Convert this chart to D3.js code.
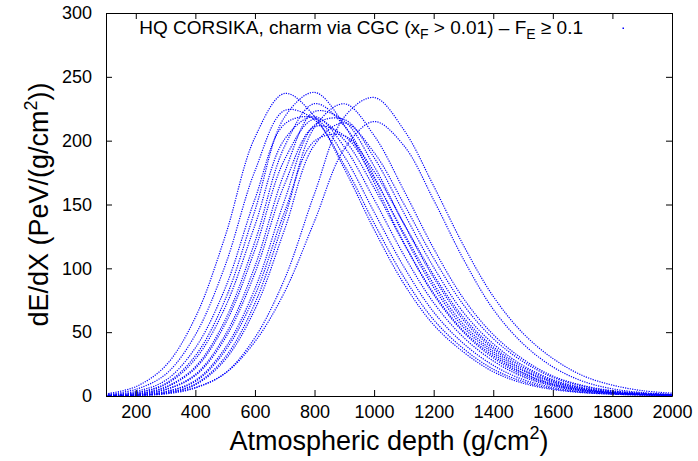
<!DOCTYPE html>
<html>
<head>
<meta charset="utf-8">
<script src="https://cdn.jsdelivr.net/npm/d3@7"></script>
<style>
  body { margin: 0; background: #fff; }
  svg { display: block; font-family: "Liberation Sans", Arial, Helvetica, sans-serif; }
</style>
</head>
<body>
<svg id="chart" width="698" height="461"></svg>
<script>
// atmospheric depth grid (g/cm^2)
const depth = [100, 200, 300, 400, 500, 600, 700, 800, 900, 1000,
               1100, 1200, 1300, 1400, 1500, 1600, 1700, 1800, 1900, 2000];

// dE/dX (PeV/(g/cm^2)) for each simulated shower
const shower1  = [1.7, 7.3, 23.7, 61.6, 125.1, 202.6, 237, 219.0, 178.0, 130.4, 87.9, 55.7, 34.4, 19.0, 10.0, 5.1, 2.6, 1.4, 0.7, 0.4];
const shower2  = [0.5, 2.6, 9.8, 31.5, 75.5, 145.3, 218.7, 237.8, 212.0, 167.3, 120.0, 79.3, 50.0, 29.9, 16.3, 8.6, 4.3, 2.2, 1.1, 0.6];
const shower3  = [1.1, 5.2, 17.0, 47.9, 102.2, 176.3, 223.7, 216.3, 180.8, 135.4, 93.1, 59.7, 37.1, 21.0, 11.3, 5.8, 2.9, 1.5, 0.8, 0.4];
const shower4  = [0.7, 3.6, 12.2, 37.7, 84.4, 154.3, 213.1, 217.6, 187.6, 144.1, 101.2, 65.7, 41.1, 24.0, 12.9, 6.7, 3.4, 1.8, 0.9, 0.5];
const shower5  = [0.3, 1.6, 7.1, 22.9, 59.5, 120.9, 195.8, 229, 211.6, 172.0, 126.0, 85.0, 53.8, 33.2, 18.3, 9.6, 4.9, 2.5, 1.3, 0.7];
const shower6  = [0.1, 0.5, 2.5, 9.4, 30.4, 72.7, 139.8, 210.5, 228.9, 204.0, 161.0, 115.5, 76.4, 48.1, 28.8, 15.6, 8.3, 4.1, 2.2, 1.1];
const shower7  = [0.2, 1.1, 5.2, 16.9, 47.7, 101.7, 175.5, 222.8, 215.3, 180.0, 134.8, 92.7, 59.4, 36.9, 20.9, 11.3, 5.7, 2.9, 1.5, 0.8];
const shower8  = [0.5, 2.4, 9.0, 29.0, 69.5, 133.8, 201.3, 218.9, 195.1, 154.0, 110.4, 73.0, 46.0, 27.5, 15.0, 7.9, 4.0, 2.1, 1.1, 0.6];
const shower9  = [0.3, 1.5, 6.7, 21.7, 56.4, 114.6, 185.5, 217, 200.5, 163.0, 119.4, 80.5, 51.0, 31.5, 17.4, 9.1, 4.7, 2.4, 1.2, 0.7];
const shower10 = [0.2, 0.7, 3.5, 12.2, 37.6, 84.0, 153.6, 212.2, 216.6, 186.7, 143.4, 100.8, 65.4, 40.9, 23.9, 12.8, 6.6, 3.4, 1.8, 0.9];
const shower11 = [0.2, 1.1, 4.9, 16.0, 45.2, 96.3, 166.1, 210.9, 203.8, 170.4, 127.6, 87.8, 56.2, 34.9, 19.8, 10.7, 5.4, 2.8, 1.4, 0.7];
const shower12 = [0.1, 0.5, 2.4, 8.8, 28.4, 67.9, 130.7, 196.7, 213.9, 190.7, 150.5, 107.9, 71.4, 44.9, 26.9, 14.6, 7.7, 3.9, 2.0, 1.0];
const shower13 = [0.2, 0.6, 3.3, 11.4, 35.4, 79.0, 144.6, 199.7, 203.8, 175.8, 135.0, 94.8, 61.6, 38.5, 22.5, 12.1, 6.2, 3.2, 1.7, 0.9];
const shower14 = [0.1, 0.4, 1.6, 6.3, 17.9, 45.8, 91.9, 158.6, 218.6, 233.8, 208.4, 164.5, 118.0, 78.0, 49.1, 29.4, 16.0, 8.5, 4.2, 2.2];
const shower15 = [0.2, 0.5, 2.1, 6.7, 17.8, 42.6, 81.7, 137.0, 193.5, 215, 196.1, 153.5, 107.1, 67.9, 40.9, 22.8, 11.6, 5.6, 2.7, 1.3];

const showers = [shower1, shower2, shower3, shower4, shower5, shower6, shower7, shower8,
                 shower9, shower10, shower11, shower12, shower13, shower14, shower15];

const xTicks = [200, 400, 600, 800, 1000, 1200, 1400, 1600, 1800, 2000];
const yTicks = [0, 50, 100, 150, 200, 250, 300];

const width = 698, height = 461;
const margin = {top: 13, right: 26, bottom: 65, left: 106};
const blue = "#0000ff";

const svg = d3.select("#chart");

const x = d3.scaleLinear().domain([100, 2000]).range([margin.left, width - margin.right]);
const y = d3.scaleLinear().domain([0, 300]).range([height - margin.bottom, margin.top]);

svg.append("clipPath").attr("id", "plot-area")
  .append("rect")
  .attr("x", margin.left).attr("y", margin.top)
  .attr("width", width - margin.left - margin.right)
  .attr("height", height - margin.top - margin.bottom);

// curves, drawn dotted like gnuplot "with dots"
let line = d3.line()
  .x((d, i) => x(depth[i]))
  .y(d => y(d))
  .curve(d3.curveCatmullRom.alpha(0.5));

svg.append("g")
  .attr("clip-path", "url(#plot-area)")
  .selectAll("path")
  .data(showers)
  .enter()
  .append("path")
  .attr("d", line)
  .attr("fill", "none")
  .attr("stroke", blue)
  .attr("stroke-width", 1.2)
  .attr("stroke-dasharray", "1.2,1.2");

// axes: ticks point inward and are mirrored on top / right
function styleAxis(g) {
  g.attr("font-family", null).attr("font-size", 18);
  g.selectAll("path, line").attr("stroke", "#000");
  g.selectAll("text").attr("fill", "#000");
}

svg.append("g")
  .attr("transform", `translate(0,${y(0)})`)
  .call(d3.axisBottom(x).tickValues(xTicks).tickFormat(d3.format("d"))
    .tickSizeInner(-6).tickSizeOuter(0).tickPadding(9))
  .call(styleAxis);

svg.append("g")
  .attr("transform", `translate(0,${y(300)})`)
  .call(d3.axisTop(x).tickValues(xTicks).tickSizeInner(-6).tickSizeOuter(0).tickFormat(""))
  .call(styleAxis);

svg.append("g")
  .attr("transform", `translate(${x(100)},0)`)
  .call(d3.axisLeft(y).tickValues(yTicks).tickFormat(d3.format("d"))
    .tickSizeInner(-6).tickSizeOuter(0).tickPadding(14))
  .call(styleAxis);

svg.append("g")
  .attr("transform", `translate(${x(2000)},0)`)
  .call(d3.axisRight(y).tickValues(yTicks).tickSizeInner(-6).tickSizeOuter(0).tickFormat(""))
  .call(styleAxis);

// axis titles
let xTitle = svg.append("text")
  .attr("x", (x(100) + x(2000)) / 2)
  .attr("y", 450)
  .attr("text-anchor", "middle")
  .attr("font-size", 27);
xTitle.append("tspan").text("Atmospheric depth (g/cm");
xTitle.append("tspan").attr("font-size", 18).attr("dy", -11).text("2");
xTitle.append("tspan").attr("dy", 11).text(")");

let yTitle = svg.append("text")
  .attr("transform", `translate(48,${(y(0) + y(300)) / 2}) rotate(-90)`)
  .attr("text-anchor", "middle")
  .attr("font-size", 27);
yTitle.append("tspan").text("dE/dX (PeV/(g/cm");
yTitle.append("tspan").attr("font-size", 18).attr("dy", -11).text("2");
yTitle.append("tspan").attr("dy", 11).text("))");

// key
let key = svg.append("text")
  .attr("x", 583)
  .attr("y", 34)
  .attr("text-anchor", "end")
  .attr("font-size", 19);
key.append("tspan").text("HQ CORSIKA, charm via CGC (x");
key.append("tspan").attr("font-size", 14).attr("dy", 5).text("F");
key.append("tspan").attr("dy", -5).text(" > 0.01) \u2013 F");
key.append("tspan").attr("font-size", 14).attr("dy", 5).text("E");
key.append("tspan").attr("dy", -5).text(" \u2265 0.1");

svg.append("rect")
  .attr("x", 622.5).attr("y", 27.5)
  .attr("width", 1.5).attr("height", 1.5)
  .attr("fill", blue);
</script>
</body>
</html>
